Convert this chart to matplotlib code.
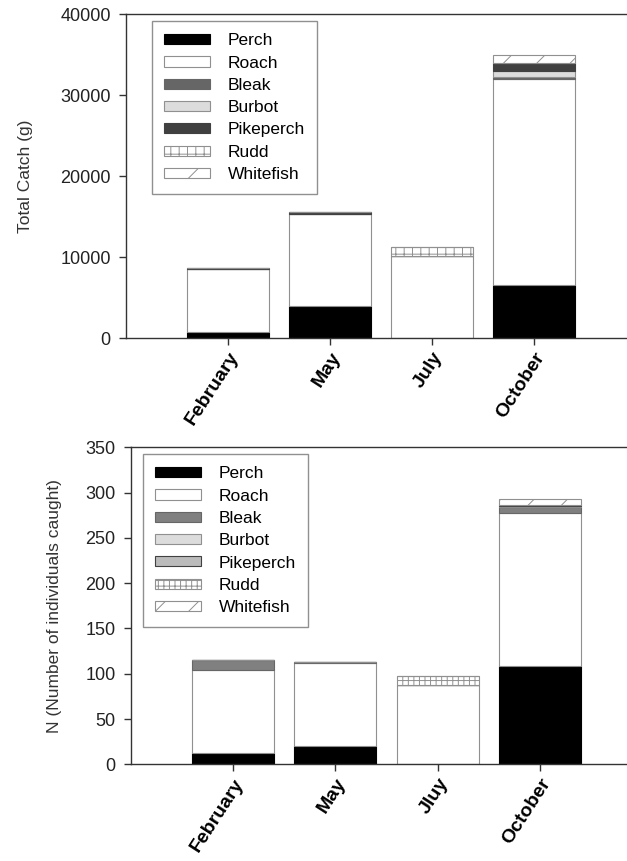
import matplotlib
matplotlib.use("Agg")
import matplotlib.pyplot as plt
import numpy as np

plt.rcParams["font.family"] = ["Liberation Sans", "DejaVu Sans"]
plt.rcParams["hatch.color"] = "#707070"
plt.rcParams["hatch.linewidth"] = 0.7

species = ["Perch", "Roach", "Bleak", "Burbot", "Pikeperch", "Rudd", "Whitefish"]

# Total catch (g)
months_top = ["February", "May", "July", "October"]
perch_g = [700, 3900, 0, 6500]
roach_g = [7800, 11400, 10100, 25500]
bleak_g = [50, 50, 0, 200]
burbot_g = [0, 0, 0, 800]
pikeperch_g = [100, 150, 0, 1000]
rudd_g = [0, 0, 1100, 0]
whitefish_g = [0, 0, 0, 900]

# Number of individuals
months_bot = ["February", "May", "Jluy", "October"]
perch_n = [13, 20, 0, 108]
roach_n = [91, 92, 88, 169]
bleak_n = [11, 0.5, 0, 7]
burbot_n = [0, 0, 0, 1]
pikeperch_n = [0, 0, 0, 1.5]
rudd_n = [0, 0, 10, 0]
whitefish_n = [0, 0, 0, 6]

top_fill = ["black", "white", "#666666", "#dcdcdc", "#404040", "white", "white"]
bot_fill = ["black", "white", "#808080", "#dcdcdc", "#bbbbbb", "white", "white"]
edges = ["black", "#909090", "#666666", "#909090", "#404040", "#909090", "#909090"]


def stacked(ax, months, series, fills, hatches, ymax, yticks, ylabel, xmax):
    x = np.arange(1, len(months) + 1)
    bottom = np.zeros(len(months))
    handles = []
    for name, vals, fc, ec, h in zip(species, series, fills, edges, hatches):
        vals = np.array(vals, dtype=float)
        b = ax.bar(x, vals, width=0.8, bottom=bottom, color=fc, edgecolor=ec,
                   linewidth=0.8, hatch=h, label=name)
        handles.append(b)
        bottom += vals
    ax.set_xlim(0, xmax)
    ax.set_ylim(0, ymax)
    ax.set_yticks(yticks)
    ax.set_yticklabels([str(t) for t in yticks], fontsize=13, color="#222222")
    ax.set_xticks(x)
    ax.set_xticklabels(months, rotation=57, ha="right", rotation_mode="anchor",
                       fontsize=14, fontweight="bold")
    ax.tick_params(axis="both", direction="out", length=5, color="#333333", width=1)
    ax.tick_params(axis="x", pad=3)
    ax.tick_params(axis="y", pad=6)
    ax.spines["right"].set_visible(False)
    for s in ["left", "bottom", "top"]:
        ax.spines[s].set_color("#333333")
        ax.spines[s].set_linewidth(1)
    ax.set_ylabel(ylabel, fontsize=12.5, color="#333333")
    leg = ax.legend(handles=handles, loc="upper left", fontsize=12.5,
                    handlelength=2.65, handleheight=0.52, labelspacing=0.42,
                    handletextpad=1.0, borderpad=0.7, borderaxespad=0,
                    fancybox=False, framealpha=1, edgecolor="#909090")
    leg.get_frame().set_linewidth(1)
    return leg


fig = plt.figure(figsize=(6.27, 8.61), dpi=100)

ax1 = fig.add_axes([126 / 627, 0.6074, 1 - 126 / 627, 0.3763])
leg1 = stacked(ax1, months_top,
               [perch_g, roach_g, bleak_g, burbot_g, pikeperch_g, rudd_g, whitefish_g],
               top_fill, ["", "", "", "", "", "++", "/"],
               40000, [0, 10000, 20000, 30000, 40000], "Total Catch (g)",
               (627 - 126) / 102)
leg1.set_bbox_to_anchor((0.052, 0.978), transform=ax1.transAxes)
ax1.yaxis.set_label_coords(-0.186, 0.5)

ax2 = fig.add_axes([130.7 / 627, 0.1123, 1 - 130.7 / 627, 0.3682])
leg2 = stacked(ax2, months_bot,
               [perch_n, roach_n, bleak_n, burbot_n, pikeperch_n, rudd_n, whitefish_n],
               bot_fill, ["", "", "", "", "", "+++", "/"],
               350, [0, 50, 100, 150, 200, 250, 300, 350],
               "N (Number of individuals caught)", (627 - 130.7) / 102.3)
leg2.set_bbox_to_anchor((0.025, 0.978), transform=ax2.transAxes)
ax2.yaxis.set_label_coords(-0.139, 0.5)

fig.savefig("out.png", dpi=100)
